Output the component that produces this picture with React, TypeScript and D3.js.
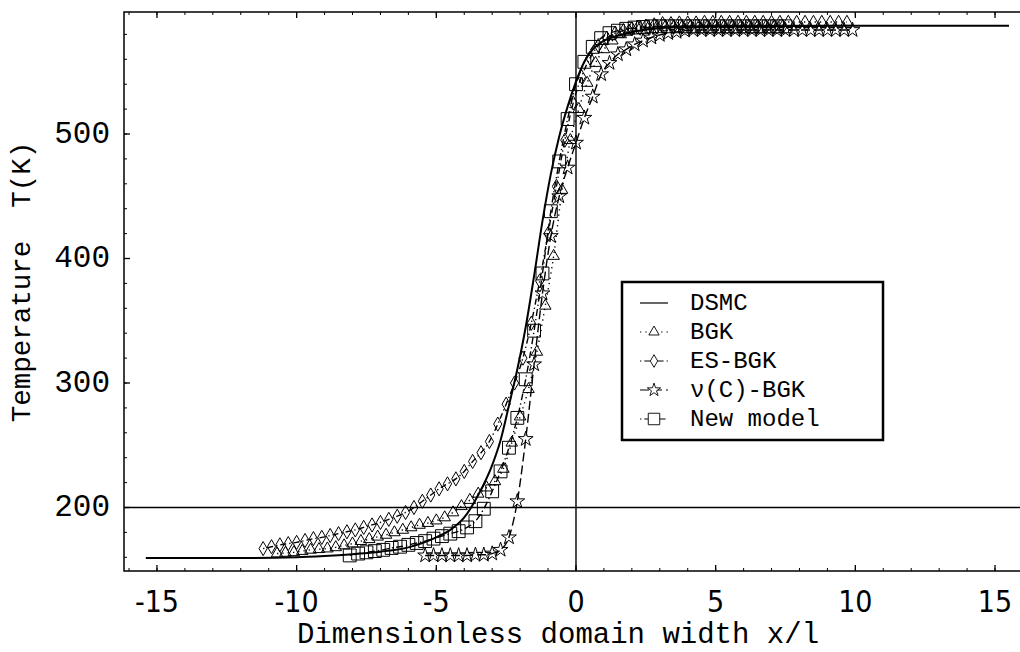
import * as d3 from "d3";

const W = 1020;
const H = 652;
const LEFT = 124;
const RIGHT = 1021;
const TOP = 12;
const BOTTOM = 571;
const FONT = "'Liberation Mono', 'Courier New', monospace";
const NARROW = "'Liberation Sans Narrow', 'DejaVu Sans Condensed', 'Liberation Sans', sans-serif";

// DSMC reference curve (solid line, no markers)
const dsmc: [number, number][] = [
  [-15.4, 159.5], [-12, 159.5], [-10, 160], [-9, 161], [-8, 162.5], [-7, 164.5],
  [-6, 168], [-5.5, 171.5], [-5, 176], [-4.5, 182], [-4, 192], [-3.5, 210],
  [-3, 234], [-2.7, 254], [-2.4, 282], [-2.1, 311], [-1.8, 345], [-1.5, 386],
  [-1.2, 430], [-0.9, 468], [-0.6, 498], [-0.3, 522], [0, 542], [0.3, 558],
  [0.6, 568], [1, 575], [1.5, 579], [2, 582], [3, 585], [4, 586], [6, 586.5],
  [10, 587], [15.5, 587],
];

const bgk: [number, number][] = [
  [-10.7, 163], [-10.4, 163.5], [-10.1, 164], [-9.8, 165], [-9.5, 166], [-9.2, 166.5],
  [-8.9, 167], [-8.6, 168], [-8.3, 169.5], [-8.0, 171], [-7.7, 173], [-7.4, 174.5],
  [-7.1, 176.5], [-6.8, 178], [-6.5, 180], [-6.2, 182], [-5.9, 184], [-5.6, 186],
  [-5.3, 187.5], [-5.0, 189.5], [-4.7, 192], [-4.4, 196], [-4.1, 201], [-3.8, 206],
  [-3.5, 211], [-3.2, 216], [-2.9, 221], [-2.6, 231], [-2.3, 252], [-2.0, 273],
  [-1.7, 295], [-1.4, 325], [-1.1, 362], [-0.8, 402], [-0.5, 455], [-0.2, 495],
  [0.1, 520], [0.4, 541], [0.7, 557], [1.0, 568], [1.3, 575], [1.6, 580],
  [1.9, 583], [2.2, 585.5], [2.5, 587], [2.8, 588], [3.1, 589], [3.4, 589],
  [3.7, 589.5], [4.0, 589.5], [4.3, 589.5], [4.6, 590], [4.9, 590], [5.2, 590],
  [5.5, 590], [5.8, 590], [6.1, 590], [6.4, 590], [6.7, 590], [7.0, 590],
  [7.3, 590], [7.6, 590], [7.9, 590], [8.2, 590], [8.5, 590], [8.8, 590],
  [9.1, 590], [9.4, 590], [9.7, 590],
];

const esbgk: [number, number][] = [
  [-11.2, 167], [-10.9, 168.5], [-10.6, 170], [-10.3, 171], [-10.0, 172], [-9.7, 173.5],
  [-9.4, 175], [-9.1, 176], [-8.8, 177.5], [-8.5, 179], [-8.2, 180.5], [-7.9, 182],
  [-7.6, 184], [-7.3, 186], [-7.0, 188], [-6.7, 190.5], [-6.4, 193], [-6.1, 196],
  [-5.8, 200], [-5.5, 205], [-5.2, 210], [-4.9, 215], [-4.6, 219], [-4.3, 223],
  [-4.0, 229], [-3.7, 237], [-3.4, 244], [-3.1, 253], [-2.8, 267], [-2.5, 283],
  [-2.2, 300], [-1.9, 320], [-1.6, 348], [-1.3, 382], [-1.0, 420], [-0.7, 458],
  [-0.4, 495], [-0.1, 525], [0.2, 546], [0.5, 561], [0.8, 571], [1.1, 577],
  [1.4, 581], [1.7, 583], [2.0, 584.5], [2.3, 585], [2.6, 585.5], [2.9, 586],
  [3.2, 586], [3.5, 586], [3.8, 586], [4.1, 586], [4.4, 586], [4.7, 586],
  [5.0, 586], [5.3, 586], [5.6, 586], [5.9, 586], [6.2, 586], [6.5, 586],
  [6.8, 586], [7.1, 586], [7.4, 586],
];

const nuC: [number, number][] = [
  [-5.4, 161.5], [-5.1, 161.5], [-4.8, 161.5], [-4.5, 161.5], [-4.2, 161.5], [-3.9, 161.5],
  [-3.6, 162], [-3.3, 162], [-3.0, 163], [-2.7, 166], [-2.4, 176], [-2.1, 205],
  [-1.8, 255], [-1.5, 315], [-1.2, 372], [-0.9, 418], [-0.6, 450], [-0.3, 473],
  [0.0, 493], [0.3, 513], [0.6, 530], [0.9, 548], [1.2, 557], [1.5, 564],
  [1.8, 568], [2.1, 572], [2.4, 575], [2.7, 577.5], [3.0, 579.5], [3.3, 581],
  [3.6, 582], [3.9, 583], [4.2, 583.5], [4.5, 583.5], [4.8, 583.5], [5.1, 583.5],
  [5.4, 583.5], [5.7, 583.5], [6.0, 583.5], [6.3, 583.5], [6.6, 583.5], [6.9, 583.5],
  [7.2, 583.5], [7.5, 583.5], [7.8, 583.5], [8.1, 583.5], [8.4, 583.5], [8.7, 583.5],
  [9.0, 583.5], [9.3, 583.5], [9.6, 583.5], [9.9, 583.5],
];

const newModel: [number, number][] = [
  [-8.1, 161.5], [-7.8, 163], [-7.5, 164], [-7.2, 165], [-6.9, 166], [-6.6, 167.5],
  [-6.3, 168.5], [-6.0, 170], [-5.7, 171.5], [-5.4, 173], [-5.1, 175], [-4.8, 177],
  [-4.5, 179], [-4.2, 181], [-3.9, 184], [-3.6, 189], [-3.3, 199], [-3.0, 213],
  [-2.7, 229], [-2.4, 248], [-2.1, 272], [-1.8, 303], [-1.5, 342], [-1.2, 388],
  [-0.9, 438], [-0.6, 478], [-0.3, 512], [0.0, 540], [0.3, 558], [0.6, 570],
  [0.9, 577], [1.2, 581], [1.5, 583], [1.8, 584.5], [2.1, 585.5], [2.4, 586],
  [2.7, 586.5], [3.0, 586.5], [3.3, 586.5], [3.6, 586.5], [3.9, 586.5], [4.2, 586.5],
  [4.5, 586.5], [4.8, 586.5], [5.1, 586.5], [5.4, 586.5], [5.7, 586.5], [6.0, 586.5],
  [6.3, 586.5], [6.6, 586.5], [6.9, 586.5], [7.2, 586.5], [7.5, 586.5],
];

const xMajor = [-15, -10, -5, 0, 5, 10, 15];
const yMajor = [200, 300, 400, 500];

type Series = {
  name: string;
  data: [number, number][];
  symbol: d3.SymbolType | null;
  size: number;
  dash: string;
  width: number;
};

const series: Series[] = [
  { name: "DSMC", data: dsmc, symbol: null, size: 0, dash: "", width: 2 },
  { name: "BGK", data: bgk, symbol: d3.symbolTriangle, size: 58, dash: "1.3 4", width: 1.4 },
  { name: "ES-BGK", data: esbgk, symbol: d3.symbolDiamond, size: 58, dash: "1.3 3 6 3", width: 1.4 },
  { name: "\u03bd(C)-BGK", data: nuC, symbol: d3.symbolStar, size: 68, dash: "9 4", width: 1.4 },
  { name: "New model", data: newModel, symbol: d3.symbolSquare, size: 165, dash: "1.3 3 7 3", width: 1.4 },
];

export default function App() {
  const x = d3.scaleLinear().domain([-16.18, 15.93]).range([LEFT, RIGHT]);
  const y = d3.scaleLinear().domain([149, 598]).range([BOTTOM, TOP]);

  const line = d3
    .line<[number, number]>()
    .x((d) => x(d[0]))
    .y((d) => y(d[1]))
    .curve(d3.curveMonotoneX);

  const xMinor = d3.range(-16, 16, 1);
  const yMinor = d3.range(160, 598, 20);

  const legendX = 622;
  const legendY = 282;
  const legendRows = [303, 332, 361, 390, 419];

  return (
    <svg
      width={W}
      height={H}
      style={{ position: "absolute", left: 0, top: 0, background: "#fff" }}
      fontFamily={FONT}
    >
      <rect width={W} height={H} fill="#fff" />

      {/* crosshair lines */}
      <line x1={x(0)} x2={x(0)} y1={TOP} y2={BOTTOM} stroke="#000" strokeWidth={1.4} />
      <line x1={LEFT} x2={RIGHT} y1={y(200)} y2={y(200)} stroke="#000" strokeWidth={1.4} />

      {/* curves */}
      {series.map((s) => (
        <path
          key={s.name}
          d={line(s.data) ?? ""}
          fill="none"
          stroke="#000"
          strokeWidth={s.width}
          strokeDasharray={s.dash || undefined}
        />
      ))}

      {/* markers */}
      {series
        .filter((s) => s.symbol)
        .map((s) => {
          const p = d3.symbol().type(s.symbol as d3.SymbolType).size(s.size)();
          return (
            <g key={s.name + "-m"}>
              {s.data.map((d, i) => (
                <path
                  key={i}
                  d={p ?? ""}
                  transform={`translate(${x(d[0])},${y(d[1])})`}
                  fill="none"
                  stroke="#000"
                  strokeWidth={1}
                />
              ))}
            </g>
          );
        })}

      {/* frame */}
      <path
        d={`M${RIGHT},${TOP}H${LEFT}V${BOTTOM}H${RIGHT}`}
        fill="none"
        stroke="#000"
        strokeWidth={1.5}
      />

      {/* x ticks */}
      {xMinor.map((v) => (
        <g key={"xm" + v}>
          <line x1={x(v)} x2={x(v)} y1={BOTTOM} y2={BOTTOM - 3} stroke="#000" />
          <line x1={x(v)} x2={x(v)} y1={TOP} y2={TOP + 3} stroke="#000" />
        </g>
      ))}
      {xMajor.map((v) => (
        <g key={"xM" + v}>
          <line x1={x(v)} x2={x(v)} y1={BOTTOM} y2={BOTTOM - 6} stroke="#000" strokeWidth={1.3} />
          <line x1={x(v)} x2={x(v)} y1={TOP} y2={TOP + 6} stroke="#000" strokeWidth={1.3} />
          <text x={x(v)} y={612} textAnchor="middle" fontSize={30} fontFamily={NARROW}>
            {v}
          </text>
        </g>
      ))}

      {/* y ticks */}
      {yMinor.map((v) => (
        <line key={"ym" + v} x1={LEFT} x2={LEFT + 3} y1={y(v)} y2={y(v)} stroke="#000" />
      ))}
      {yMajor.map((v) => (
        <g key={"yM" + v}>
          <line x1={LEFT} x2={LEFT + 6} y1={y(v)} y2={y(v)} stroke="#000" strokeWidth={1.3} />
          <text x={110} y={y(v)} textAnchor="end" dominantBaseline="central" fontSize={31}>
            {v}
          </text>
        </g>
      ))}

      {/* axis titles */}
      <text x={558} y={643} textAnchor="middle" fontSize={29}>
        Dimensionless domain width x/l
      </text>
      <text
        transform="translate(30,282) rotate(-90)"
        textAnchor="middle"
        fontSize={27.5}
        style={{ whiteSpace: "pre" }}
      >
        {"Temperature  T(K)"}
      </text>

      {/* legend */}
      <rect
        x={legendX}
        y={legendY}
        width={261}
        height={158}
        fill="#fff"
        stroke="#000"
        strokeWidth={2.5}
      />
      {series.map((s, i) => {
        const cy = legendRows[i];
        const p = s.symbol ? d3.symbol().type(s.symbol).size(s.size * 0.8)() : null;
        return (
          <g key={"lg" + s.name}>
            <line
              x1={640}
              x2={668}
              y1={cy}
              y2={cy}
              stroke="#000"
              strokeWidth={s.symbol ? 1 : 1.2}
              strokeDasharray={s.dash || undefined}
            />
            {p && (
              <path
                d={p}
                transform={`translate(654,${cy})`}
                fill="#fff"
                stroke="#000"
                strokeWidth={0.9}
              />
            )}
            <text x={690} y={cy} dominantBaseline="central" fontSize={24}>
              {s.name}
            </text>
          </g>
        );
      })}
    </svg>
  );
}
